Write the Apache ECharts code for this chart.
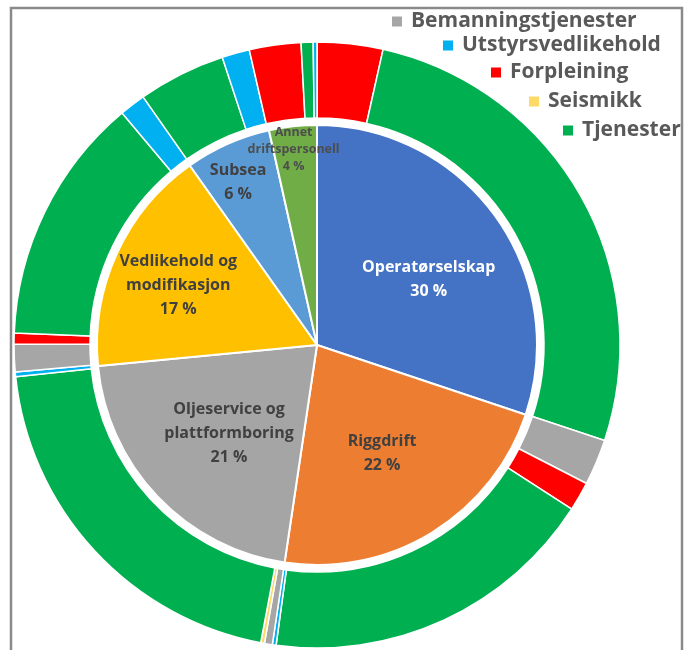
<!DOCTYPE html>
<html>
<head>
<meta charset="utf-8">
<script src="https://cdn.jsdelivr.net/npm/echarts@6/dist/echarts.min.js"></script>
<style>
html, body { margin: 0; padding: 0; background: #fff; }
#main { width: 686px; height: 650px; }
</style>
</head>
<body>
<div id="main"></div>
<script>
// indre ring: andel per type virksomhet (%)
var categories = ['Operatørselskap', 'Riggdrift', 'Oljeservice og\nplattformboring', 'Vedlikehold og\nmodifikasjon', 'Subsea', 'Annet\ndriftspersonell'];
var shares = [30.1, 22.2, 21.1, 16.7, 6.3, 3.5];
var catColors = ['#4472C4', '#ED7D31', '#A5A5A5', '#FFC000', '#5B9BD5', '#70AD47'];

// ytre ring: type innkjøp, med klokka fra toppen
var purchaseTypes = ['Bemanningstjenester', 'Utstyrsvedlikehold', 'Forpleining', 'Seismikk', 'Tjenester'];
var typeColors = ['#A6A6A6', '#00B0F0', '#FF0000', '#FFD966', '#00B050'];
var outerTypes = ['Forpleining', 'Tjenester',
	'Bemanningstjenester', 'Forpleining', 'Tjenester',
	'Utstyrsvedlikehold', 'Bemanningstjenester', 'Seismikk', 'Tjenester',
	'Utstyrsvedlikehold', 'Bemanningstjenester', 'Forpleining', 'Tjenester',
	'Utstyrsvedlikehold', 'Tjenester',
	'Utstyrsvedlikehold', 'Forpleining', 'Tjenester', 'Utstyrsvedlikehold'];
var outerShares = [3.5, 26.6,
	2.45, 1.55, 18.05,
	0.2, 0.42, 0.2, 20.35,
	0.25, 1.47, 0.58, 13.25,
	1.39, 4.67,
	1.47, 2.75, 0.64, 0.2];

var myChart = echarts.init(document.getElementById('main'));

var font = '"Open Sans", "DejaVu Sans", sans-serif';

// flytter etikettene dit Excel la dem
var labelShift = [[20, 0], [6, 12], [-6, 11], [-36, -13], [-33, -59], [-11, -83]];
// plassering av de fem legend-radene
var legendPos = [[392, 11], [443, 35], [491, 62], [529, 91], [563, 120]];

var innerData = categories.map(function (name, i) {
	var item = { name: name, value: shares[i], itemStyle: { color: catColors[i] } };
	if (i === 0) item.label = { color: '#ffffff' };
	if (i === 5) item.label = { fontSize: 12.5, lineHeight: 17, color: '#4d4d4d' };
	return item;
});

var outerData = outerTypes.map(function (t, i) {
	return { name: t, value: outerShares[i], itemStyle: { color: typeColors[purchaseTypes.indexOf(t)] } };
});

var legends = purchaseTypes.map(function (t, i) {
	return {
		data: [t],
		left: legendPos[i][0],
		top: legendPos[i][1],
		padding: 0,
		icon: 'rect',
		itemWidth: 10,
		itemHeight: 10,
		itemStyle: { borderWidth: 0 },
		selectedMode: false,
		textStyle: { fontFamily: font, fontWeight: 'bold', fontSize: 21, color: '#595959', padding: [0, 0, 0, 4] }
	};
});

option = {
	animation: false,
	backgroundColor: '#ffffff',
	legend: legends,
	graphic: [{
		type: 'rect',
		silent: true,
		shape: { x: 11, y: 8, width: 671, height: 700 },
		style: { fill: 'none', stroke: '#8a8a8a', lineWidth: 2.5 }
	}],
	series: [{
		name: 'Virksomhet',
		type: 'pie',
		center: [317, 345],
		radius: [0, 220],
		startAngle: 90,
		clockwise: true,
		avoidLabelOverlap: false,
		emphasis: { disabled: true },
		itemStyle: { borderColor: '#ffffff', borderWidth: 2 },
		label: {
			show: true,
			position: 'inside',
			fontFamily: font,
			fontWeight: 'bold',
			fontSize: 16,
			lineHeight: 24,
			color: '#404040',
			formatter: function (p) {
				return p.name + '\n' + Math.round(p.percent) + ' %';
			}
		},
		labelLine: { show: false },
		labelLayout: function (p) {
			var s = labelShift[p.dataIndex];
			return { dx: s[0], dy: s[1] };
		},
		data: innerData
	}, {
		name: 'Innkjøp',
		type: 'pie',
		center: [317, 345],
		radius: [227, 303],
		startAngle: 90,
		clockwise: true,
		emphasis: { disabled: true },
		itemStyle: { borderColor: '#ffffff', borderWidth: 1.5 },
		label: { show: false },
		labelLine: { show: false },
		data: outerData
	}]
};
myChart.setOption(option);
</script>
</body>
</html>
